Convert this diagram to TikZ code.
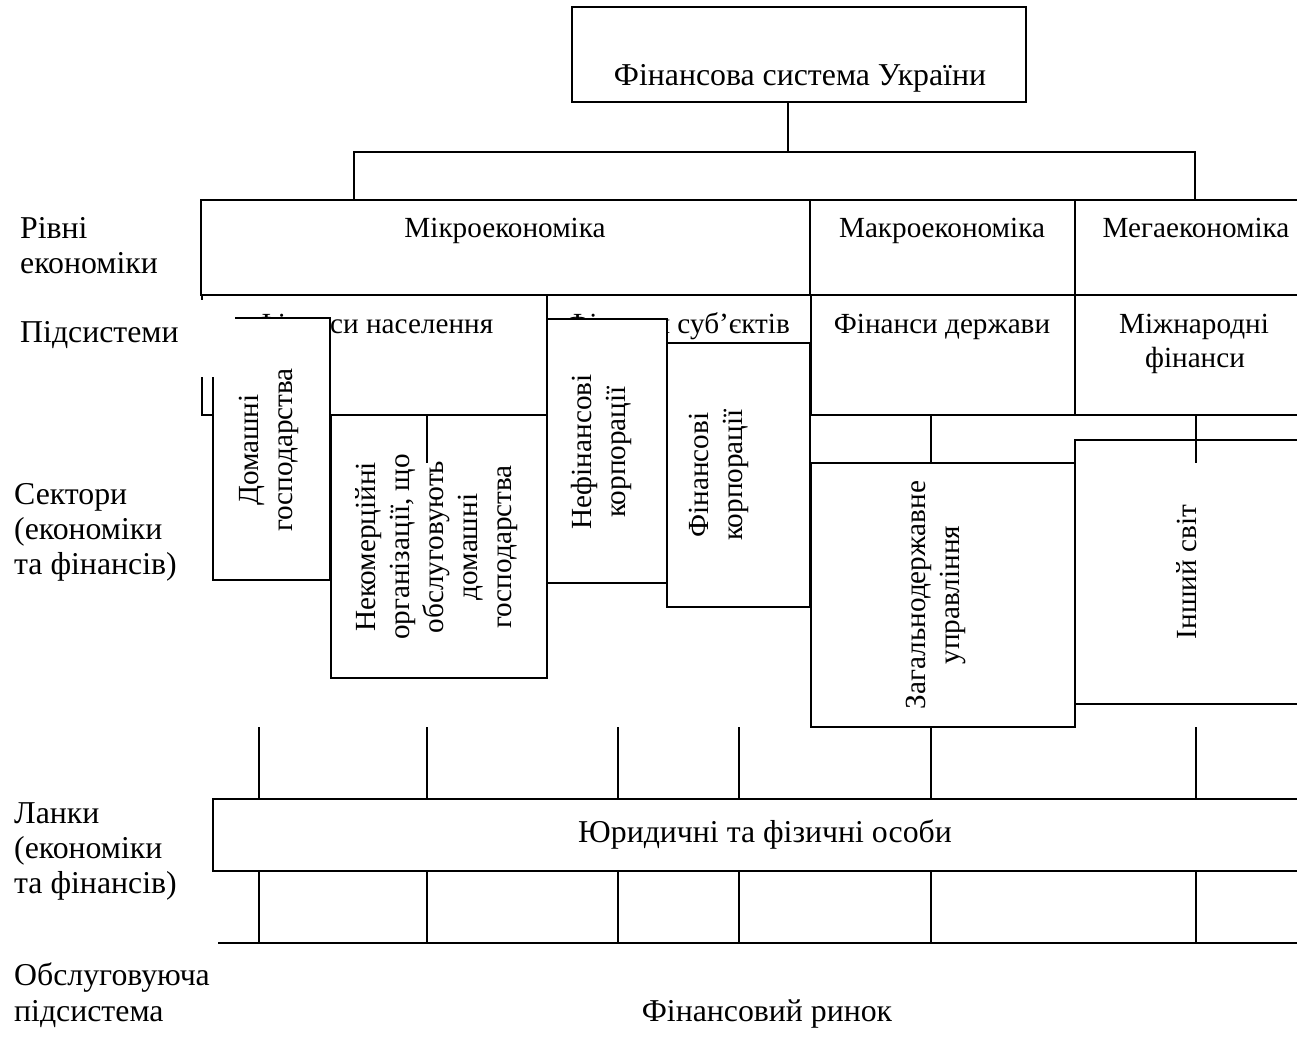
\documentclass[tikz,border=0pt]{standalone}
\usepackage{fontspec}
\setmainfont{Liberation Serif}
\newfontfamily\tnr{Liberation Serif}
\begin{document}
\begin{tikzpicture}[x=1pt,y=-1pt,
  lw/.style={line width=1.6pt},
  box/.style={draw, lw, fill=white, rectangle, inner sep=0pt, outer sep=0pt, anchor=north west},
  big/.style={font=\tnr\fontsize{31.8}{36}\selectfont},
  small/.style={font=\tnr\fontsize{29.2}{34}\selectfont},
  txt/.style={small, inner sep=0pt, anchor=base},
  btxt/.style={big, inner sep=0pt, anchor=base},
  lbl/.style={big, inner sep=0pt, anchor=base west},
  rtxt/.style={small, inner sep=0pt, rotate=90, align=center}]
\useasboundingbox (0,0) rectangle (1297,1037);

% top
\node[box, minimum width=454pt, minimum height=95pt] (top) at (572,7) {};
\node[btxt] (ttop) at (800,85) {Фінансова система України};
\coordinate (j) at (788,152);
\coordinate (jl) at (354,152);
\coordinate (jr) at (1195,152);

% levels
\node[box, minimum width=609pt, minimum height=95pt] (micro) at (201,200) {};
\node[box, minimum width=265pt, minimum height=95pt] (macro) at (810,200) {};
\node[box, minimum width=245pt, minimum height=95pt] (mega) at (1075,200) {};
\draw[lw] (top.south -| j) -- (j);
\draw[lw] (micro.north -| jl) -- (jl) -- (jr) -- (mega.north -| jr);
\node[txt] (tmicro) at (505,237) {Мікроекономіка};
\node[txt] (tmacro) at (942,237) {Макроекономіка};
\node[txt] (tmega) at (1196,237) {Мегаекономіка};

% subsystems
\node[box, minimum width=345pt, minimum height=120pt] (fnas) at (202,295) {};
\node[box, minimum width=264pt, minimum height=120pt] (fsub) at (547,295) {};
\node[box, minimum width=264pt, minimum height=120pt] (fder) at (811,295) {};
\node[box, minimum width=245pt, minimum height=120pt] (mizh) at (1075,295) {};
\node[txt] (tfnas) at (374,333) {Фінанси населення};
\node[txt] (tfsub) at (678,333) {Фінанси суб’єктів};
\node[txt] (tfder) at (942,333) {Фінанси держави};
\node[txt] (tmizh1) at (1194,333) {Міжнародні};
\node[txt] (tmizh2) at (1195,367) {фінанси};

% sectors
\node[box, minimum width=117pt, minimum height=262pt] (dom) at (213,318) {};
\node[box, minimum width=216pt, minimum height=263pt] (nekom) at (331,415) {};
\node[box, minimum width=120pt, minimum height=264pt] (nefin) at (547,319) {};
\node[box, minimum width=143pt, minimum height=264pt] (fin) at (667,343) {};
\node[box, minimum width=264pt, minimum height=264pt] (zag) at (811,463) {};
\node[box, minimum width=224pt, minimum height=264pt] (insh) at (1075,440) {};
\node[rtxt] (tdom) at (269,450) {Домашні\\господарства};
\node[rtxt] (tnekom) at (437,547) {Некомерційні\\організації, що\\обслуговують\\домашні\\господарства};
\node[rtxt] (tnefin) at (601,452) {Нефінансові\\корпорації};
\node[rtxt] (tfin) at (719,475) {Фінансові\\корпорації};
\node[rtxt] (tzag) at (936,595) {Загальнодержавне\\управління};
\node[rtxt] (tinsh) at (1187,572) {Інший світ};

% cover of the left label frame
\fill[white] (0,300) rectangle (235,377);

% connectors between subsystems and sectors
\coordinate (c1) at (427,463);
\coordinate (c2) at (931,463);
\coordinate (c3) at (1196,463);
\draw[lw] (fnas.south -| c1) -- (c1);
\draw[lw] (fder.south -| c2) -- (c2);
\draw[lw] (mizh.south -| c3) -- (c3);

% links
\node[box, minimum width=1107pt, minimum height=72pt] (yur) at (213,799) {};
\node[btxt] (tyur) at (765,842) {Юридичні та фізичні особи};
\coordinate (ml) at (218,943);
\coordinate (mr) at (1320,943);
\draw[lw] (ml) -- (mr);
\foreach \xx in {259,427,618,739,931,1196}{
  \coordinate (u) at (\xx,727);
  \coordinate (d) at (\xx,943);
  \draw[lw] (u) -- (yur.north -| u);
  \draw[lw] (yur.south -| d) -- (d);
}
\node[btxt] (tmarket) at (767,1021) {Фінансовий ринок};

% left labels
\node[lbl] (l1a) at (20,238) {Рівні};
\node[lbl] (l1b) at (20,273) {економіки};
\node[lbl] (l2) at (20,342) {Підсистеми};
\node[lbl] (l3a) at (14,504) {Сектори};
\node[lbl] (l3b) at (14,539) {(економіки};
\node[lbl] (l3c) at (14,574) {та фінансів)};
\node[lbl] (l4a) at (14,823) {Ланки};
\node[lbl] (l4b) at (14,858) {(економіки};
\node[lbl] (l4c) at (14,893) {та фінансів)};
\node[lbl] (l5a) at (14,985) {Обслуговуюча};
\node[lbl] (l5b) at (14,1021) {підсистема};
\end{tikzpicture}
\end{document}
